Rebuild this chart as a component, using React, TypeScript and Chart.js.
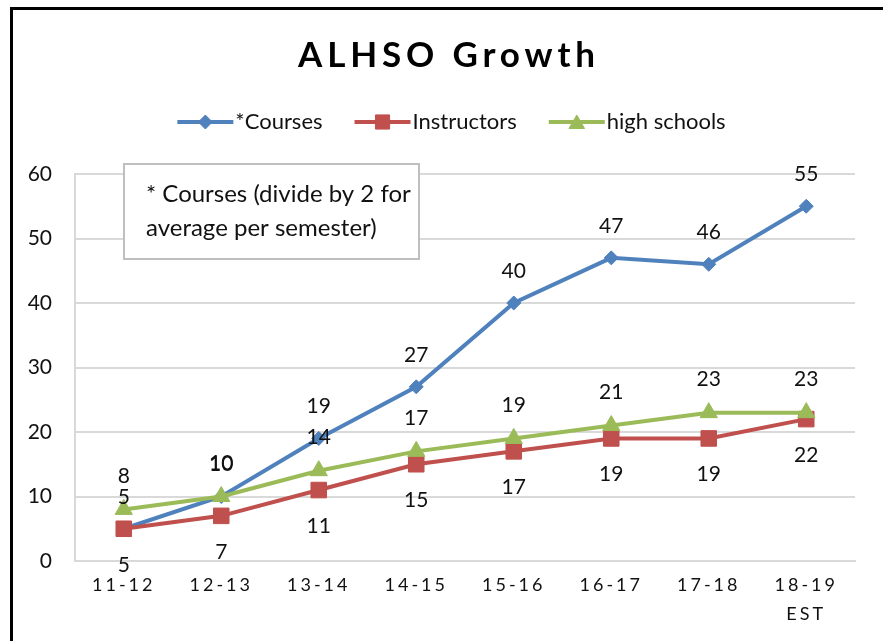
import React, { useEffect, useRef } from 'react';
import { Chart, registerables } from 'chart.js';
import { drawPoint } from 'chart.js/helpers';

Chart.register(...registerables);

const categories: (string | string[])[] = ['11-12', '12-13', '13-14', '14-15', '15-16', '16-17', '17-18', ['18-19', 'EST']];
const courses = [5, 10, 19, 27, 40, 47, 46, 55];
const instructors = [5, 7, 11, 15, 17, 19, 19, 22];
const highSchools = [8, 10, 14, 17, 19, 21, 23, 23];
const seriesNames = ['*Courses', 'Instructors', 'high schools'];
const titleText = 'ALHSO Growth';
const noteLines = ['* Courses (divide by 2 for', 'average per semester)'];
const yMin = 0;
const yMax = 60;
const yStep = 10;

const FONT = 'Lato, "Open Sans", "DejaVu Sans", sans-serif';
const BLUE = '#4F81BD';
const RED = '#C0504D';
const GREEN = '#9BBB59';

const decor = {
  id: 'decor',
  afterLayout(chart: any) {
    const s = chart.scales.x;
    if (s && !s.__wrapped) {
      const orig = s.drawLabels.bind(s);
      s.drawLabels = (area: any) => {
        const ctx = chart.ctx;
        ctx.save();
        (ctx as any).letterSpacing = '3px';
        orig(area);
        ctx.restore();
      };
      s.__wrapped = true;
    }
  },
  afterDatasetsDraw(chart: any) {
    const ctx = chart.ctx;
    ctx.save();
    ctx.font = `21px ${FONT}`;
    ctx.fillStyle = '#111';
    ctx.textAlign = 'center';
    ctx.textBaseline = 'middle';
    chart.data.datasets.forEach((ds: any, i: number) => {
      const meta = chart.getDatasetMeta(i);
      meta.data.forEach((pt: any, j: number) => {
        ctx.fillText(String(ds.data[j]), pt.x, pt.y + ds.labelOffset);
      });
    });
    ctx.restore();
  },
  afterDraw(chart: any) {
    const ctx = chart.ctx;
    ctx.save();
    // outer border
    ctx.fillStyle = '#000';
    ctx.fillRect(10, 7, 3, chart.height - 7);
    ctx.fillRect(10, 7, chart.width - 10, 3);

    // title
    ctx.font = `bold 35px ${FONT}`;
    (ctx as any).letterSpacing = '0px';
    const w0 = ctx.measureText(titleText).width;
    const targetW = 297;
    const sp = Math.max(0, (targetW - w0) / (titleText.length - 1));
    (ctx as any).letterSpacing = sp + 'px';
    ctx.textAlign = 'left';
    ctx.textBaseline = 'middle';
    ctx.fillStyle = '#000';
    ctx.fillText(titleText, 446.5 - targetW / 2, 56);
    (ctx as any).letterSpacing = '0px';

    // legend
    ctx.font = `22px ${FONT}`;
    const lineLen = 56;
    const gapText = 2;
    const gapItem = 32;
    const widths = seriesNames.map((n) => ctx.measureText(n).width);
    const total = widths.reduce((a, b) => a + b, 0) + seriesNames.length * (lineLen + gapText) + gapItem * (seriesNames.length - 1);
    let x = 451.5 - total / 2;
    const ly = 122;
    const legendStyles = [
      { pointStyle: 'rectRot', radius: 7 },
      { pointStyle: 'rect', radius: 10 },
      { pointStyle: 'triangle', radius: 9 },
    ];
    chart.data.datasets.forEach((ds: any, i: number) => {
      ctx.strokeStyle = ds.borderColor;
      ctx.fillStyle = ds.borderColor;
      ctx.lineWidth = 4;
      ctx.beginPath();
      ctx.moveTo(x, ly);
      ctx.lineTo(x + lineLen, ly);
      ctx.stroke();
      ctx.lineWidth = 1;
      drawPoint(ctx, { ...legendStyles[i], rotation: 0, borderWidth: 1 } as any, x + lineLen / 2, ly + (i === 2 ? 2 : 0));
      ctx.fillStyle = '#111';
      ctx.textAlign = 'left';
      ctx.textBaseline = 'middle';
      ctx.fillText(seriesNames[i], x + lineLen + gapText, ly);
      x += lineLen + gapText + widths[i] + gapItem;
    });

    // note box
    ctx.fillStyle = '#fff';
    ctx.fillRect(124, 164, 295, 95);
    ctx.strokeStyle = '#BFBFBF';
    ctx.lineWidth = 2;
    ctx.strokeRect(124, 164, 295, 95);
    ctx.fillStyle = '#111';
    ctx.font = `24px ${FONT}`;
    ctx.textAlign = 'left';
    ctx.textBaseline = 'middle';
    ctx.fillText(noteLines[0], 146, 194);
    ctx.fillText(noteLines[1], 146, 228);
    ctx.restore();
  },
};

export default function App() {
  const ref = useRef<HTMLCanvasElement | null>(null);
  useEffect(() => {
    document.body.style.margin = '0';
    const canvas = ref.current;
    if (!canvas) return;
    const chart = new Chart(canvas, {
      type: 'line',
      data: {
        labels: categories as any,
        datasets: [
          {
            label: seriesNames[0],
            data: courses,
            borderColor: BLUE,
            backgroundColor: BLUE,
            borderWidth: 4,
            pointStyle: 'rectRot',
            pointRadius: 7,
            pointBorderWidth: 1,
            pointBackgroundColor: BLUE,
            pointBorderColor: BLUE,
            order: 3,
            labelOffset: -32,
          } as any,
          {
            label: seriesNames[1],
            data: instructors,
            borderColor: RED,
            backgroundColor: RED,
            borderWidth: 4,
            pointStyle: 'rect',
            pointRadius: 11,
            pointBorderWidth: 1,
            pointBackgroundColor: RED,
            pointBorderColor: RED,
            order: 2,
            labelOffset: 36,
          } as any,
          {
            label: seriesNames[2],
            data: highSchools,
            borderColor: GREEN,
            backgroundColor: GREEN,
            borderWidth: 4,
            pointStyle: 'triangle',
            pointRadius: 10,
            pointBorderWidth: 1,
            pointBackgroundColor: GREEN,
            pointBorderColor: GREEN,
            order: 1,
            labelOffset: -33,
          } as any,
        ],
      },
      options: {
        responsive: false,
        animation: false,
        layout: { padding: { top: 174, right: 28, left: 0, bottom: 0 } },
        plugins: {
          legend: { display: false },
          title: { display: false },
          tooltip: { enabled: false },
        },
        scales: {
          x: {
            offset: true,
            grid: { display: false },
            border: { display: true, color: '#D9D9D9', width: 2 },
            ticks: {
              color: '#111',
              font: { family: FONT, size: 18, lineHeight: 1.6 },
              padding: 2,
              maxRotation: 0,
              autoSkip: false,
            },
            afterFit: (scale: any) => {
              scale.height = 80;
            },
          },
          y: {
            min: yMin,
            max: yMax,
            grid: { color: '#D9D9D9', lineWidth: 2, drawTicks: false },
            border: { display: true, color: '#D9D9D9', width: 2 },
            ticks: {
              stepSize: yStep,
              color: '#111',
              font: { family: FONT, size: 21 },
              padding: 23,
            },
            afterFit: (scale: any) => {
              scale.width = 75;
            },
          },
        },
      },
      plugins: [decor],
    });
    return () => chart.destroy();
  }, []);
  return (
    <div style={{ width: 883, height: 641 }}>
      <canvas ref={ref} width={883} height={641} style={{ display: 'block' }} />
    </div>
  );
}
